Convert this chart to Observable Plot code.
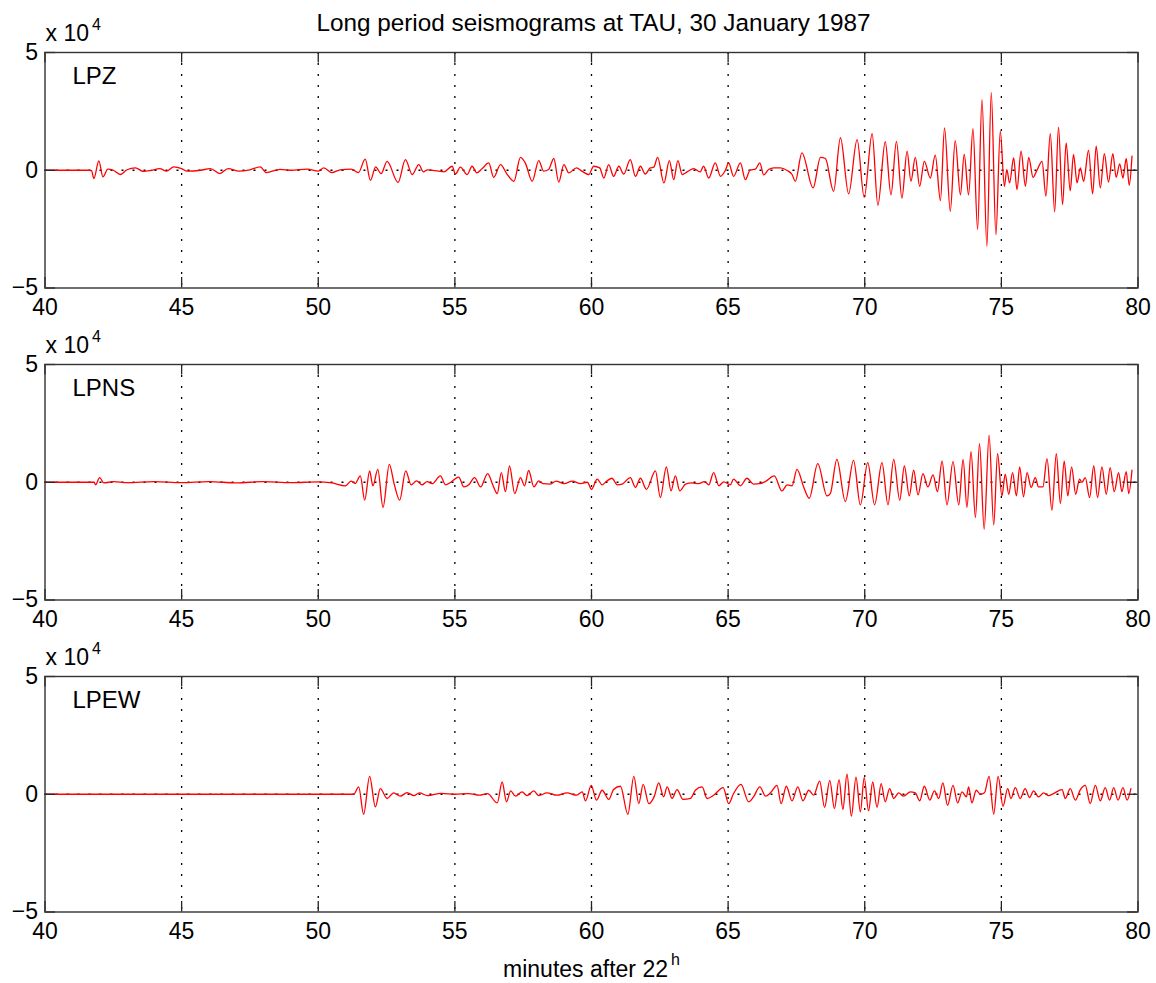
<!DOCTYPE html>
<html>
<head>
<meta charset="utf-8">
<script src="https://cdn.jsdelivr.net/npm/d3@7"></script>
<script src="https://cdn.jsdelivr.net/npm/@observablehq/plot@0.6"></script>
<style>
  html, body { margin: 0; padding: 0; background: white; }
  #fig { position: relative; width: 1156px; height: 983px; background: white; overflow: hidden; }
  #fig svg { position: absolute; left: 0; }
</style>
</head>
<body>
<div id="fig"></div>
<script>
// ---------- data (amplitudes in units of 1e4, time in minutes after 22h) ----------
const titleText = "Long period seismograms at TAU, 30 January 1987";
const xLabelText = "minutes after 22";
const xLabelSup = "h";
const channels = ["LPZ", "LPNS", "LPEW"];
const xTicks = [40, 45, 50, 55, 60, 65, 70, 75, 80];
const yTicks = [-5, 0, 5];
const yTickLabels = ["\u22125", "0", "5"];

const lpzTime = [40.0,41.6,41.7,41.79,41.97,42.12,42.3,42.5,42.76,43.0,43.31,43.6,43.9,44.2,44.45,44.71,45.0,45.2,45.7,46.05,46.4,46.7,47.1,47.5,47.88,48.1,48.6,49.0,49.6,50.0,50.2,50.5,50.8,51.2,51.47,51.72,51.91,52.1,52.3,52.52,52.92,53.19,53.44,53.68,53.85,54.0,54.4,54.6,54.9,55.02,55.2,55.45,55.63,55.8,56.0,56.24,56.42,56.67,56.9,57.16,57.4,57.58,57.83,58.07,58.25,58.43,58.62,58.8,58.99,59.17,59.45,59.65,59.9,60.08,60.3,60.45,60.63,60.81,61.0,61.18,61.42,61.61,61.79,61.97,62.15,62.28,62.42,62.65,62.85,63.01,63.16,63.32,63.5,63.74,63.98,64.1,64.29,64.53,64.72,64.9,65.02,65.2,65.45,65.63,65.8,66.0,66.16,66.3,66.48,66.67,66.91,67.16,67.34,67.46,67.70,68.11,68.38,68.56,68.86,69.11,69.41,69.72,69.98,70.27,70.48,70.75,70.96,71.16,71.36,71.55,71.69,71.85,72.01,72.18,72.40,72.58,72.77,72.92,73.13,73.31,73.50,73.64,73.80,73.96,74.13,74.29,74.47,74.63,74.80,74.96,75.11,75.2,75.3,75.45,75.57,75.72,75.88,76.0,76.16,76.3,76.49,76.63,76.79,76.95,77.09,77.24,77.37,77.52,77.64,77.77,77.89,78.01,78.19,78.34,78.47,78.62,78.77,78.92,79.08,79.2,79.33,79.45,79.57,79.68,79.78];
const lpzValue = [0,0,-0.02,-0.35,0.40,-0.28,0.05,0,-0.18,0.02,0.10,-0.05,0,0.07,-0.04,0.14,0.07,-0.04,0,0.07,-0.14,0.07,-0.04,0.02,0.14,-0.10,0.04,0,0.05,-0.04,0.10,-0.10,0.02,0.05,-0.1,0.47,-0.43,0.14,-0.14,0.38,-0.52,0.45,-0.18,0.24,-0.07,0.02,-0.04,-0.07,0.17,-0.16,0.13,-0.18,0.17,-0.11,0.07,0.31,-0.30,0.24,-0.15,-0.47,0.55,0.30,-0.47,0.41,-0.04,0.03,0.50,-0.50,0.24,-0.11,0.10,-0.04,-0.18,0.17,0.10,-0.33,0.24,-0.26,0.17,-0.16,0.45,-0.26,0.17,-0.16,0.10,0.13,0.55,-0.54,0.41,-0.40,0.41,-0.18,-0.07,0.07,-0.07,0.17,-0.33,0.31,-0.26,0.0,0.31,-0.26,0.31,-0.40,0.0,0.05,0.31,-0.2,0.03,0.1,0.1,-0.01,-0.18,-0.47,0.74,-0.75,0.55,0.50,-0.89,1.38,-1.0,1.30,-1.15,1.55,-1.49,1.21,-1.04,1.23,-1.18,0.81,-0.47,0.55,-0.68,0.38,-0.33,0.64,-1.29,1.80,-1.74,1.26,-1.04,0.67,-1.04,1.77,-2.52,3.0,-3.23,3.29,-2.74,1.66,-0.68,0.03,-0.54,0.52,-0.82,0.81,-0.68,0.55,-0.30,-0.01,0.38,-1.1,1.55,-1.77,1.83,-1.46,1.16,-0.87,0.67,-0.54,0.1,-0.47,0.84,-1.0,1.02,-0.75,0.70,-0.5,0.7,-0.3,0.27,-0.33,0.5,-0.64,0.6];

const lpnsTime = [40,41.8,41.85,42.0,42.15,42.5,43,44,45,46,47,48,49,50,50.5,51.0,51.2,51.35,51.54,51.70,51.88,52.0,52.18,52.37,52.6,52.78,52.98,53.2,53.4,53.6,53.8,53.98,54.17,54.47,54.66,54.84,55.14,55.33,55.51,55.72,55.94,56.2,56.4,56.55,56.7,56.85,57.0,57.19,57.4,57.55,57.7,57.89,58.07,58.23,58.5,58.7,59.0,59.3,59.6,59.85,60.0,60.21,60.39,60.57,60.75,60.94,61.12,61.42,61.61,61.79,62.01,62.34,62.52,62.74,62.91,63.07,63.23,63.44,63.68,63.92,64.13,64.29,64.47,64.66,64.84,65.08,65.2,65.45,65.69,65.93,66.16,66.36,66.69,66.97,67.16,67.34,67.52,67.77,67.97,68.28,68.62,68.74,68.98,69.29,69.59,69.84,70.11,70.36,70.63,70.85,71.06,71.28,71.45,71.63,71.79,71.95,72.13,72.31,72.5,72.66,72.83,73.01,73.23,73.44,73.6,73.74,73.89,74.05,74.2,74.37,74.55,74.72,74.86,75.02,75.14,75.27,75.41,75.55,75.67,75.81,75.94,76.09,76.24,76.36,76.52,76.67,76.85,77.01,77.16,77.3,77.43,77.57,77.72,77.86,77.95,78.07,78.23,78.38,78.52,78.68,78.84,78.98,79.13,79.29,79.41,79.57,79.66,79.78];
const lpnsValue = [0,0,-0.11,0.2,-0.03,0.03,-0.02,0.03,-0.02,0.03,-0.03,0.03,-0.02,0.02,-0.03,-0.15,0.05,-0.05,0.27,-0.76,0.48,-0.15,0.55,-1.07,0.76,-0.08,-0.76,0.48,-0.11,0.06,-0.11,0.03,-0.06,0.27,-0.11,-0.01,0.22,-0.2,-0.11,0.2,-0.2,0.37,-0.15,-0.48,0.41,-0.4,0.69,-0.48,0.2,-0.15,0.5,-0.2,0.06,-0.06,-0.08,0.05,-0.06,0.05,-0.06,0.0,-0.3,0.13,-0.11,0.06,0.17,-0.11,-0.08,0.2,-0.22,0.17,-0.3,0.48,-0.65,0.65,-0.37,0.27,-0.37,-0.08,-0.03,-0.06,0.03,-0.11,0.41,-0.15,0.02,-0.11,0.13,-0.15,0.17,-0.08,-0.06,0.03,0.27,-0.37,-0.11,-0.15,0.55,-0.22,-0.68,0.79,-0.58,-0.48,0.97,-0.82,0.93,-0.96,0.83,-0.96,0.83,-0.96,0.97,-0.76,0.69,-0.58,0.51,-0.54,0.37,-0.2,0.31,-0.4,0.9,-0.96,0.88,-0.96,0.97,-1.07,1.3,-1.5,1.64,-1.99,2.0,-1.81,1.21,-0.58,0.34,-0.51,0.41,-0.58,0.65,-0.62,0.41,-0.22,0.2,-0.2,-0.2,1.0,-1.19,1.21,-0.9,0.9,-0.58,0.65,-0.51,0.13,0.0,0.2,-0.65,0.69,-0.65,0.65,-0.51,0.62,-0.4,0.41,-0.4,0.45,-0.48,0.51];

const lpewTime = [40,51.3,51.48,51.66,51.88,52.09,52.27,52.52,52.76,53.0,53.25,53.5,53.7,54.0,54.5,55.0,55.5,55.9,56.2,56.55,56.73,56.89,57.04,57.22,57.46,57.64,57.89,58.07,58.37,58.74,59.1,59.46,59.66,59.78,59.99,60.18,60.39,60.63,60.81,61.06,61.33,61.55,61.73,61.89,62.1,62.3,62.46,62.64,62.77,62.95,63.13,63.35,63.62,63.8,64.05,64.23,64.47,64.82,65.02,65.2,65.47,65.75,65.93,66.16,66.37,66.55,66.79,66.94,67.13,67.34,67.55,67.74,67.95,68.13,68.35,68.53,68.72,68.89,69.06,69.2,69.35,69.51,69.68,69.84,69.98,70.14,70.29,70.45,70.6,70.75,70.91,71.06,71.24,71.42,71.67,71.85,72.01,72.18,72.38,72.55,72.71,72.86,73.03,73.23,73.4,73.56,73.72,73.8,73.92,74.08,74.23,74.38,74.55,74.72,74.88,75.06,75.23,75.35,75.51,75.69,75.87,76.03,76.18,76.36,76.55,76.73,76.91,77.22,77.34,77.52,77.71,77.89,78.07,78.25,78.44,78.62,78.8,78.96,79.11,79.27,79.45,79.6,79.74];
const lpewValue = [0,0,0.31,-0.85,0.76,-0.54,0.24,-0.18,0.06,-0.08,0.07,-0.06,0.06,-0.06,0.04,0.0,0.03,-0.04,0.03,-0.37,0.52,-0.32,0.14,-0.08,0.1,-0.06,0.14,-0.06,0.06,-0.04,0.06,-0.04,0.1,-0.28,0.38,-0.25,0.17,-0.22,0.2,0.34,-0.85,0.76,-0.4,0.42,-0.4,-0.08,0.48,-0.11,0.31,-0.18,0.2,-0.22,-0.18,0.17,0.31,-0.18,-0.04,0.28,-0.4,0.03,0.42,-0.32,-0.11,0.31,-0.08,0.06,0.38,-0.4,0.34,-0.28,0.31,-0.28,0.17,-0.04,0.56,-0.56,0.59,-0.61,0.62,-0.65,0.85,-0.93,0.73,-0.75,0.71,-0.71,0.52,-0.56,0.45,-0.32,0.24,-0.18,0.06,-0.08,0.1,0.06,-0.28,0.34,-0.25,0.14,-0.18,0.48,-0.47,0.38,-0.37,0.1,-0.11,0.31,-0.37,0.17,0.0,0.06,0.76,-0.85,0.76,-0.51,0.24,-0.18,0.28,-0.18,0.24,-0.14,0.14,-0.11,0.06,-0.06,0.03,0.2,-0.18,0.24,-0.25,0.2,0.38,-0.4,0.38,-0.28,0.28,-0.25,0.28,-0.25,0.28,-0.25,0.24];

const traces = [
  {time: lpzTime, value: lpzValue},
  {time: lpnsTime, value: lpnsValue},
  {time: lpewTime, value: lpewValue}
];

// ---------- layout ----------
const W = 1156, H = 330;
const mTop = 52, mBottom = 42.5, mLeft = 44.5, mRight = 18.5;
const innerW = W - mLeft - mRight;
const innerH = H - mTop - mBottom;
const panelStep = 312;
const font = "'Liberation Sans', Arial, Helvetica, sans-serif";
const fs = 23;
const tickLen = 10.5;

const fig = document.getElementById("fig");

channels.forEach((name, i) => {
  const tr = traces[i];
  const data = tr.time.map((t, k) => ({t, v: tr.value[k]}));
  const marks = [
    // dotted grid
    Plot.ruleX(xTicks.slice(1, -1), {stroke: "black", strokeWidth: 1.3, strokeDasharray: "2,9"}),
    Plot.ruleY([0], {stroke: "black", strokeWidth: 1.3, strokeDasharray: "2,9"}),
    // trace
    Plot.line(data, {x: "t", y: "v", stroke: "#ff0000", strokeWidth: 1.3, curve: "monotone-x"}),
    // inward ticks
    Plot.tickX(xTicks, {x: d => d, insetTop: innerH - tickLen, stroke: "#222", strokeWidth: 1.3}),
    Plot.tickX(xTicks, {x: d => d, insetBottom: innerH - tickLen, stroke: "#222", strokeWidth: 1.3}),
    Plot.tickY(yTicks, {y: d => d, insetRight: innerW - tickLen, stroke: "#222", strokeWidth: 1.3}),
    Plot.tickY(yTicks, {y: d => d, insetLeft: innerW - tickLen, stroke: "#222", strokeWidth: 1.3}),
    Plot.frame({stroke: "#333", strokeWidth: 1.4}),
    // tick labels
    Plot.text(xTicks, {x: d => d, frameAnchor: "bottom", dy: 11, lineAnchor: "top", text: d => String(d), fontSize: fs, fill: "black"}),
    Plot.text(yTicks, {y: d => d, frameAnchor: "left", dx: -7, textAnchor: "end", lineAnchor: "middle", text: (d, j) => yTickLabels[j], fontSize: fs, fill: "black"}),
    // exponent label
    Plot.text(["x 10"], {frameAnchor: "top-left", dx: 0.5, dy: -12, textAnchor: "start", lineAnchor: "bottom", fontSize: fs, fill: "black"}),
    Plot.text(["4"], {frameAnchor: "top-left", dx: 47, dy: -23, textAnchor: "start", lineAnchor: "bottom", fontSize: 16, fill: "black"}),
    // channel label
    Plot.text([name], {frameAnchor: "top-left", dx: 27.5, dy: 31, textAnchor: "start", lineAnchor: "bottom", fontSize: 24, fill: "black"})
  ];
  if (i === 0) {
    marks.push(Plot.text([titleText], {frameAnchor: "top", dx: 2, dy: -22, lineAnchor: "bottom", fontSize: 24.3, fill: "black"}));
  }
  if (i === 2) {
    marks.push(Plot.text([xLabelText], {frameAnchor: "bottom", dx: -6, dy: 65, lineAnchor: "bottom", fontSize: fs, fill: "black"}));
    marks.push(Plot.text([xLabelSup], {frameAnchor: "bottom", dx: 84, dy: 53, lineAnchor: "bottom", fontSize: 16, fill: "black"}));
  }
  const svg = Plot.plot({
    width: W, height: H,
    marginTop: mTop, marginBottom: mBottom, marginLeft: mLeft, marginRight: mRight,
    x: {domain: [40, 80], axis: null},
    y: {domain: [-5, 5], axis: null},
    style: {background: "transparent", overflow: "visible", fontFamily: font, fontSize: fs + "px", color: "black"},
    marks
  });
  svg.style.top = (i * panelStep) + "px";
  fig.appendChild(svg);
});
</script>
</body>
</html>
